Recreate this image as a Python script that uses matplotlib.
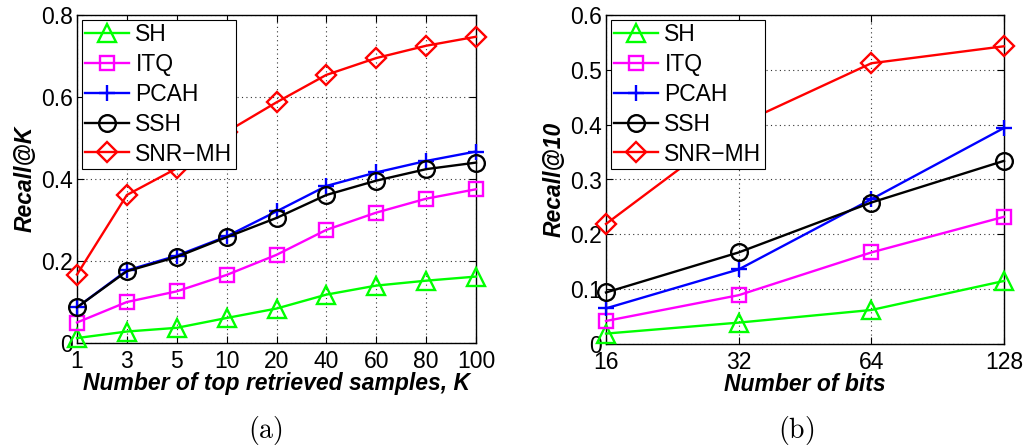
import matplotlib
matplotlib.use("Agg")
import matplotlib.pyplot as plt

plt.rcParams['font.family'] = ['Liberation Sans', 'DejaVu Sans']
plt.rcParams['mathtext.fontset'] = 'cm'

# Panel (a)
k_labels = ['1', '3', '5', '10', '20', '40', '60', '80', '100']
a_SH = [0.012, 0.028, 0.037, 0.061, 0.084, 0.118, 0.140, 0.152, 0.162]
a_ITQ = [0.050, 0.100, 0.126, 0.166, 0.215, 0.276, 0.318, 0.352, 0.375]
a_PCAH = [0.087, 0.177, 0.213, 0.260, 0.321, 0.383, 0.416, 0.444, 0.467]
a_SSH = [0.087, 0.175, 0.210, 0.258, 0.305, 0.361, 0.396, 0.424, 0.440]
a_SNR = [0.167, 0.361, 0.426, 0.515, 0.587, 0.654, 0.695, 0.725, 0.747]

# Panel (b)
bit_labels = ['16', '32', '64', '128']
b_SH = [0.019, 0.039, 0.062, 0.115]
b_ITQ = [0.042, 0.089, 0.167, 0.232]
b_PCAH = [0.065, 0.136, 0.264, 0.394]
b_SSH = [0.094, 0.167, 0.258, 0.334]
b_SNR = [0.219, 0.400, 0.512, 0.543]

names = ['SH', 'ITQ', 'PCAH', 'SSH', 'SNR\u2212MH']
colors = ['#00ff00', '#ff00ff', '#0000ff', '#000000', '#ff0000']
markers = ['^', 's', '+', 'o', 'D']
msizes = [13, 9.5, 12, 12, 10]

fig = plt.figure(figsize=(10.28, 4.48), dpi=100)
W, H = 1028, 448
ax1 = fig.add_axes([77 / W, 1 - 343 / H, (476 - 77) / W, (343 - 15) / H])
ax2 = fig.add_axes([606 / W, 1 - 344 / H, (1004 - 606) / W, (344 - 15) / H])

FS = 16.5


def draw(ax, labels, series, ymax, yticks, ytl, xlabel, ylabel):
    x = list(range(len(labels)))
    for s, n, c, m, ms in zip(series, names, colors, markers, msizes):
        ax.plot(x, s, color=c, marker=m, markersize=ms, markerfacecolor='none',
                markeredgecolor=c, markeredgewidth=1.7, linewidth=1.7, label=n,
                clip_on=False, zorder=3)
    ax.set_xlim(0, len(labels) - 1)
    ax.set_ylim(0, ymax)
    ax.set_xticks(x)
    ax.set_xticklabels(labels)
    ax.set_yticks(yticks)
    ax.set_yticklabels(ytl)
    ax.tick_params(direction='in', top=True, right=True, labelsize=FS,
                   length=5, width=0.8)
    ax.tick_params(axis='x', pad=5)
    ax.tick_params(axis='y', pad=3)
    ax.grid(True, linestyle=(0, (1, 3)), color='#333333', linewidth=0.8)
    for sp in ax.spines.values():
        sp.set_linewidth(1.0)
    ax.set_xlabel(xlabel, fontsize=FS, fontweight='bold', fontstyle='italic', labelpad=-1)
    ax.set_ylabel(ylabel, fontsize=FS, fontweight='bold', fontstyle='italic', labelpad=3)
    leg = ax.legend(loc='upper left', fontsize=FS, handlelength=1.9, handletextpad=0.3,
                    borderaxespad=0.2, borderpad=0.15, labelspacing=0.3,
                    fancybox=False, framealpha=1, edgecolor='black')
    leg.get_frame().set_linewidth(0.8)
    leg.set_zorder(5)


draw(ax1, k_labels, [a_SH, a_ITQ, a_PCAH, a_SSH, a_SNR], 0.8,
     [0, 0.2, 0.4, 0.6, 0.8], ['0', '0.2', '0.4', '0.6', '0.8'],
     'Number of top retrieved samples, K', 'Recall@K')
draw(ax2, bit_labels, [b_SH, b_ITQ, b_PCAH, b_SSH, b_SNR], 0.6,
     [0, 0.1, 0.2, 0.3, 0.4, 0.5, 0.6], ['0', '0.1', '0.2', '0.3', '0.4', '0.5', '0.6'],
     'Number of bits', 'Recall@10')

fig.text(265 / W, 1 - 430 / H, r'$\mathrm{(a)}$', fontsize=20, ha='center', va='center')
fig.text(796 / W, 1 - 430 / H, r'$\mathrm{(b)}$', fontsize=20, ha='center', va='center')

fig.savefig('out.png', dpi=100)
